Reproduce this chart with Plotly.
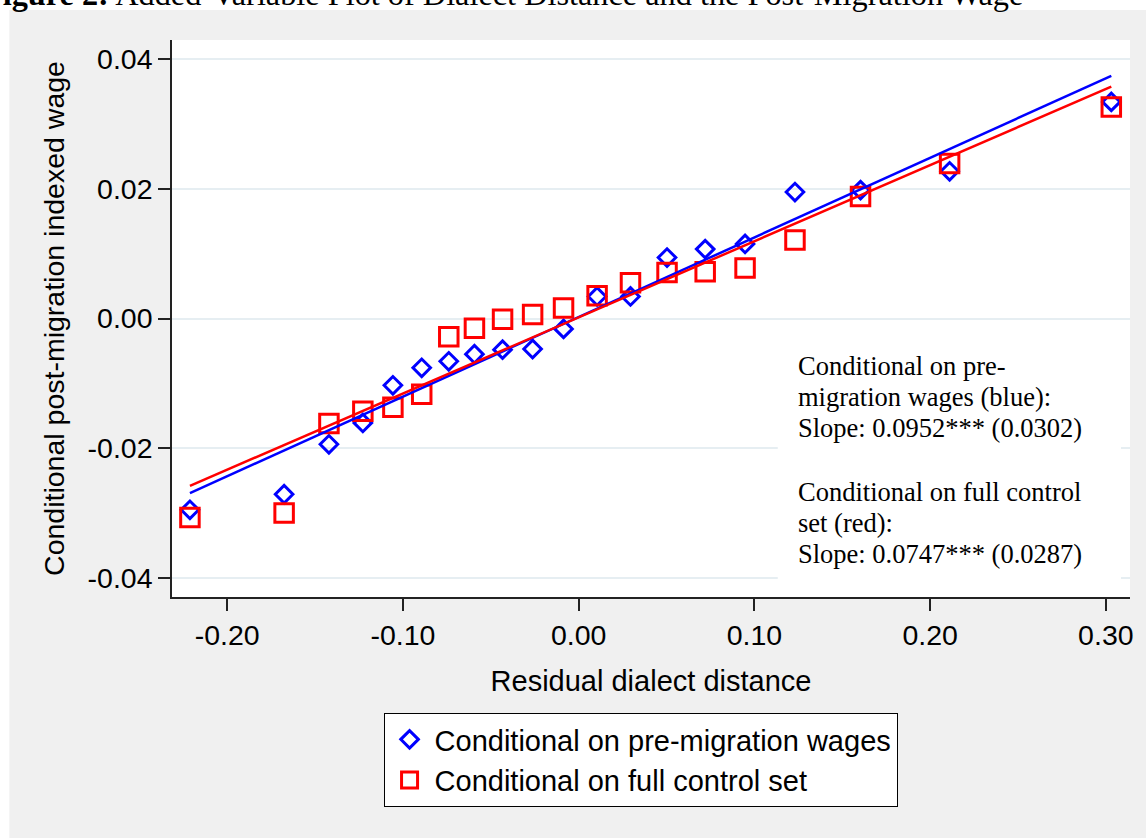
import plotly.graph_objects as go

# ---------------- data ----------------
x_bins = [-0.2212, -0.1676, -0.1421, -0.1228, -0.1057, -0.0893, -0.0739, -0.0593,
          -0.0433, -0.0262, -0.0086, 0.0105, 0.0295, 0.0503, 0.0720, 0.0947,
          0.1231, 0.1604, 0.2111, 0.3031]
wage_pre = [-0.0295, -0.0271, -0.0194, -0.0161, -0.0103, -0.0076, -0.0066, -0.0055,
            -0.0048, -0.0047, -0.0016, 0.0034, 0.0034, 0.0094, 0.0107, 0.0115,
            0.0195, 0.0198, 0.0227, 0.0334]
wage_full = [-0.0307, -0.0300, -0.0162, -0.0143, -0.0137, -0.0117, -0.0028, -0.0015,
             -0.0001, 0.0006, 0.0016, 0.0035, 0.0055, 0.0071, 0.0072, 0.0078,
             0.0121, 0.0188, 0.0239, 0.0326]
fit_pre = {"intercept": 0.00023, "slope": 0.1227}
fit_full = {"intercept": 0.00017, "slope": 0.1174}

x_tickvals = [-0.2, -0.1, 0.0, 0.1, 0.2, 0.3]
x_ticktext = ["-0.20", "-0.10", "0.00", "0.10", "0.20", "0.30"]
y_tickvals = [-0.04, -0.02, 0.0, 0.02, 0.04]
y_ticktext = ["-0.04", "-0.02", "0.00", "0.02", "0.04"]

series_names = ["Conditional on pre-migration wages", "Conditional on full control set"]
note_lines = ["Conditional on pre-", "migration wages (blue):", "Slope: 0.0952*** (0.0302)",
              "Conditional on full control", "set (red):", "Slope: 0.0747*** (0.0287)"]
title_text = "<b>Figure 2:</b> Added-Variable Plot of Dialect Distance and the Post-Migration Wage"

# ---------------- layout geometry ----------------
W, H = 1146, 838
L, R, T, B = 172, 1132, 40, 597
PW, PH = R - L, B - T


def px(v):
    return (v - L) / PW


def py(v):
    return (B - v) / PH


SANS = "Liberation Sans, Arial, sans-serif"
SERIF = "Liberation Serif, Times New Roman, serif"
FS = 28.5
FT = 29
BLUE, RED = "#0000ff", "#ff0000"
AX = "#222222"

fig = go.Figure()
fig.add_trace(go.Scatter(x=x_bins, y=wage_pre, mode="markers", name=series_names[0],
                         marker=dict(symbol="diamond-open", size=13.5, color=BLUE,
                                     line=dict(color=BLUE, width=3))))
fig.add_trace(go.Scatter(x=x_bins, y=wage_full, mode="markers", name=series_names[1],
                         marker=dict(symbol="square-open", size=18.5, color=RED,
                                     line=dict(color=RED, width=3))))
xe = [x_bins[0], x_bins[-1]]
fig.add_trace(go.Scatter(x=xe, y=[fit_pre["intercept"] + fit_pre["slope"] * v for v in xe],
                         mode="lines", line=dict(color=BLUE, width=2.5), showlegend=False,
                         hoverinfo="skip"))
fig.add_trace(go.Scatter(x=xe, y=[fit_full["intercept"] + fit_full["slope"] * v for v in xe],
                         mode="lines", line=dict(color=RED, width=2.5), showlegend=False,
                         hoverinfo="skip"))

shapes = [
    # grey graph region
    dict(type="rect", xref="paper", yref="paper", x0=px(9), x1=px(W + 2), y0=py(H + 2), y1=py(10),
         fillcolor="#f0f0f0", line=dict(width=0), layer="below"),
    # white plot region
    dict(type="rect", xref="paper", yref="paper", x0=0, x1=1, y0=0, y1=1,
         fillcolor="white", line=dict(width=0), layer="below"),
    # white box behind the note
    dict(type="rect", xref="paper", yref="paper", x0=px(779), x1=px(1123), y0=py(588), y1=py(340),
         fillcolor="white", line=dict(width=0), layer="above"),
]

annotations = [dict(text=title_text, xref="paper", yref="paper", x=px(-19), y=py(-6),
                    xanchor="left", yanchor="middle", showarrow=False,
                    font=dict(family=SERIF, size=32.3, color="black"))]
note_centers = [366, 397, 428, 492, 523, 554]
for line, c in zip(note_lines, note_centers):
    annotations.append(dict(text=line, xref="paper", yref="paper", x=px(797), y=py(c),
                            xanchor="left", yanchor="middle", showarrow=False,
                            font=dict(family=SERIF, size=26.5, color="black")))

fig.update_layout(
    width=W, height=H, autosize=False,
    margin=dict(l=L, r=W - R, t=T, b=H - B, pad=0),
    paper_bgcolor="white", plot_bgcolor="white",
    font=dict(family=SANS, size=FS, color="black"),
    showlegend=True,
    legend=dict(x=px(384), y=py(713), xanchor="left", yanchor="top",
                bgcolor="white", bordercolor="black", borderwidth=1,
                itemwidth=40,
                font=dict(family=SANS, size=FT, color="black")),
    xaxis=dict(range=[(L - 579.5) / 1761, (R - 579.5) / 1761],
               tickvals=x_tickvals, ticktext=x_ticktext,
               showline=True, linecolor=AX, linewidth=1.5,
               ticks="outside", ticklen=12, tickwidth=1.5, tickcolor=AX,
               showgrid=False, zeroline=False,
               tickfont=dict(family=SANS, size=FS),
               title=dict(text="Residual dialect distance", standoff=21,
                          font=dict(family=SANS, size=FT))),
    yaxis=dict(range=[(318.5 - B) / 6485, (318.5 - T) / 6485],
               tickvals=y_tickvals, ticktext=y_ticktext,
               showline=True, linecolor=AX, linewidth=1.5,
               ticks="outside", ticklen=12, tickwidth=1.5, tickcolor=AX,
               showgrid=True, gridcolor="#e6eef2", gridwidth=1.5, zeroline=False,
               tickfont=dict(family=SANS, size=FS),
               title=dict(text="Conditional post-migration indexed wage", standoff=15,
                          font=dict(family=SANS, size=FS))),
    shapes=shapes,
    annotations=annotations,
)

fig.write_html("out.html", config={"displayModeBar": False},
               post_script="document.body.style.margin='0';document.body.style.overflow='hidden';")
